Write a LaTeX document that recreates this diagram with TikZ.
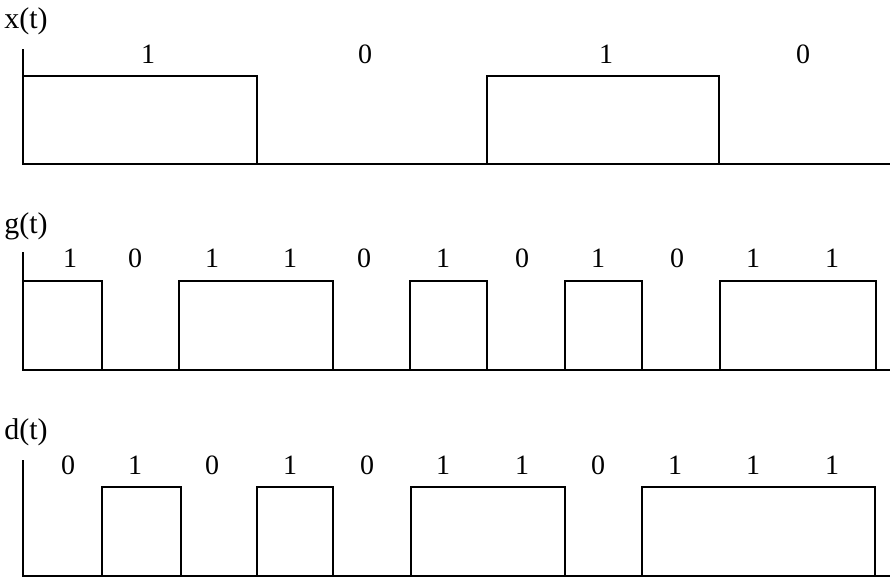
\documentclass[tikz,border=0pt]{standalone}
\usepackage{fontspec}
\setmainfont{Liberation Serif}
\begin{document}
\begin{tikzpicture}[x=1pt,y=-1pt,
  wave/.style={line width=1.8pt,line join=miter,line cap=rect},
  bitlbl/.style={font=\fontsize{28}{30}\selectfont,inner sep=0pt,anchor=center},
  siglbl/.style={font=\fontsize{30}{32}\selectfont,inner sep=0pt,anchor=center}]
\useasboundingbox (0,0) rectangle (895,577);
% ---------- x(t)
\node[siglbl] (xl) at (26,21) {x(t)};
\draw[wave] (23,50) -- (23,164);
\draw[wave] (23,76) -- (257,76) -- (257,164);
\draw[wave] (23,164) -- (889,164);
\draw[wave] (487,164) -- (487,76) -- (719,76) -- (719,164);
\foreach \x/\b [count=\i] in {148/1,365/0,606/1,803/0}
  \node[bitlbl] (xb\i) at (\x,54) {\b};
% ---------- g(t)
\node[siglbl] (gl) at (26,226) {g(t)};
\draw[wave] (23,253) -- (23,370);
\draw[wave] (23,281) -- (102,281) -- (102,370);
\draw[wave] (23,370) -- (889,370);
\draw[wave] (179,370) -- (179,281) -- (333,281) -- (333,370);
\draw[wave] (410,370) -- (410,281) -- (487,281) -- (487,370);
\draw[wave] (565,370) -- (565,281) -- (642,281) -- (642,370);
\draw[wave] (720,370) -- (720,281) -- (876,281) -- (876,370);
\foreach \x/\b [count=\i] in {70/1,135/0,212/1,290/1,364/0,443/1,522/0,598/1,677/0,753/1,832/1}
  \node[bitlbl] (gb\i) at (\x,258) {\b};
% ---------- d(t)
\node[siglbl] (dl) at (26,432) {d(t)};
\draw[wave] (23,461) -- (23,576);
\draw[wave] (23,576) -- (889,576);
\draw[wave] (102,576) -- (102,487) -- (181,487) -- (181,576);
\draw[wave] (257,576) -- (257,487) -- (333,487) -- (333,576);
\draw[wave] (411,576) -- (411,487) -- (565,487) -- (565,576);
\draw[wave] (642,576) -- (642,487) -- (875,487) -- (875,576);
\foreach \x/\b [count=\i] in {68/0,135/1,212/0,290/1,367/0,443/1,522/1,598/0,675/1,753/1,832/1}
  \node[bitlbl] (db\i) at (\x,465) {\b};
\end{tikzpicture}
\end{document}
